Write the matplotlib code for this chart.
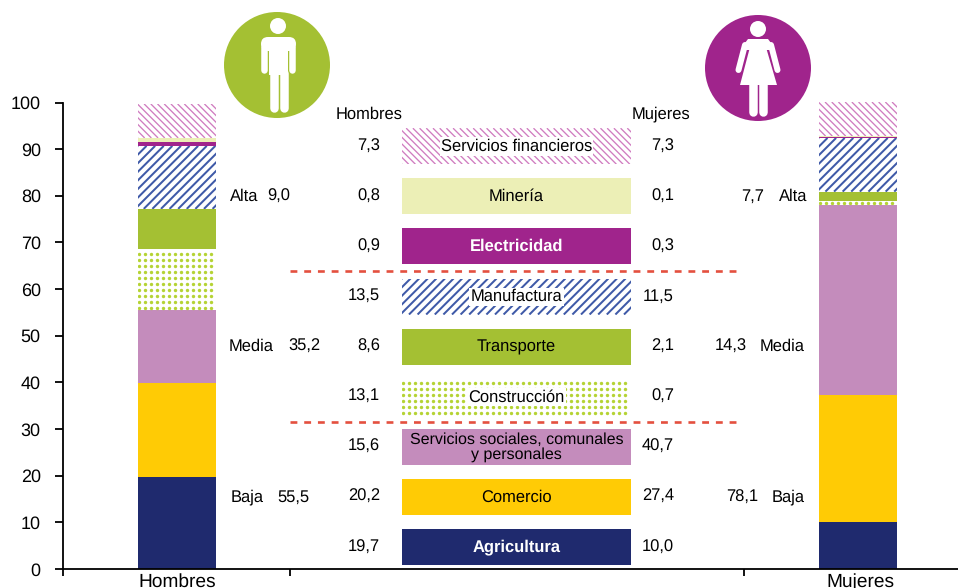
import numpy as np
import matplotlib
matplotlib.use("Agg")
import matplotlib.pyplot as plt
from matplotlib.collections import LineCollection
from matplotlib.patches import Circle, FancyBboxPatch, Polygon
from matplotlib.transforms import IdentityTransform

plt.rcParams['font.family'] = ['Liberation Sans', 'DejaVu Sans']
plt.rcParams['text.hinting'] = 'none'

# Data, bottom to top
sectors = ['Agricultura', 'Comercio', 'Servicios sociales, comunales\ny personales',
           'Construcción', 'Transporte', 'Manufactura', 'Electricidad', 'Minería',
           'Servicios financieros']
hombres = [19.7, 20.2, 15.6, 13.1, 8.6, 13.5, 0.9, 0.8, 7.3]
mujeres = [10.0, 27.4, 40.7, 0.7, 2.1, 11.5, 0.3, 0.1, 7.3]
groups = ['Baja', 'Media', 'Alta']
grupo_hombres = ['55,5', '35,2', '9,0']
grupo_mujeres = ['78,1', '14,3', '7,7']
yticks = [0, 10, 20, 30, 40, 50, 60, 70, 80, 90, 100]
bar_labels = ['Hombres', '', '', 'Mujeres']

NAVY = '#1f2a6e'
YELLOW = '#ffcb05'
MAUVE = '#c48cbc'
DOTS = '#b5d334'
GREEN = '#a4c033'
BLUE = '#3f5aa8'
PURPLE = '#a0248c'
PALE = '#ecefb6'
PINK = '#d07cc0'

# solid fill, or a hatch kind drawn on white
styles = [(NAVY, None), (YELLOW, None), (MAUVE, None), (DOTS, 'dots'), (GREEN, None),
          (BLUE, 'fwd'), (PURPLE, None), (PALE, None), (PINK, 'back')]


def hatch_rect(ax, rect, color, kind):
    """Pixel-spaced hatch, clipped to a bar"""
    box = rect.get_window_extent()
    if kind == 'dots':
        # whole-pixel spacing keeps the grid even, Agg rounds marker positions
        xs = np.arange(round(box.x0) + 1, box.x1, 6)
        ys = np.arange(round(box.y0) + 2, box.y1, 6)
        gx, gy = np.meshgrid(xs, ys)
        dots = ax.scatter(gx.ravel(), gy.ravel(), s=6.0, linewidths=0, color=color,
                          transform=IdentityTransform())
        dots.set_clip_path(rect)
        return
    h = box.height
    if kind == 'fwd':
        step, lw = 8.6, 1.45
        segs = [[(c, box.y0), (c + h, box.y1)] for c in np.arange(box.x0 - h, box.x1, step)]
    else:
        step, lw = 6.7, 0.95
        segs = [[(c, box.y1), (c + h, box.y0)] for c in np.arange(box.x0 - h, box.x1, step)]
    lc = LineCollection(segs, colors=color, linewidths=lw, transform=IdentityTransform())
    ax.add_collection(lc, autolim=False)
    lc.set_clip_path(rect)


def stroke(ov, x0, y0, x1, y1, w, color='white'):
    ov.plot([x0, x1], [y0, y1], color=color, lw=w * 0.72, solid_capstyle='round',
            scalex=False, scaley=False)


def draw_man(ov, cx, cy):
    ov.add_patch(Circle((cx, cy), 53, fc=GREEN, ec='none'))
    ov.add_patch(Circle((cx + 1, cy - 39), 8, fc='white', ec='none'))
    ov.add_patch(FancyBboxPatch((cx - 16, cy - 28), 35, 14, boxstyle='round,pad=0,rounding_size=7',
                                fc='white', ec='none'))
    stroke(ov, cx - 12.5, cy - 18, cx - 12.5, cy + 5, 6.5)
    stroke(ov, cx + 15.5, cy - 18, cx + 15.5, cy + 5, 6.5)
    ov.add_patch(Polygon([(cx - 7.5, cy - 20), (cx + 11, cy - 20), (cx + 11, cy + 10), (cx - 7.5, cy + 10)],
                         fc='white', ec='none'))
    stroke(ov, cx - 3.3, cy + 8, cx - 3.3, cy + 43, 8.5)
    stroke(ov, cx + 6.8, cy + 8, cx + 6.8, cy + 43, 8.5)


def draw_woman(ov, cx, cy):
    ov.add_patch(Circle((cx, cy), 53, fc=PURPLE, ec='none'))
    ov.add_patch(Circle((cx, cy - 39), 8, fc='white', ec='none'))
    ov.add_patch(Polygon([(cx - 10, cy - 29), (cx + 10, cy - 29), (cx + 16, cy - 21), (cx + 12, cy - 18),
                          (cx - 12, cy - 18), (cx - 16, cy - 21)], fc='white', ec='none'))
    stroke(ov, cx - 13, cy - 23, cx - 19.5, cy + 2, 6)
    stroke(ov, cx + 13, cy - 23, cx + 19.5, cy + 2, 6)
    ov.add_patch(Polygon([(cx - 8.5, cy - 19), (cx + 8.5, cy - 19), (cx + 19, cy + 17), (cx - 18, cy + 17)],
                         fc='white', ec='none'))
    stroke(ov, cx - 4.7, cy + 16, cx - 4.7, cy + 44, 8.5)
    stroke(ov, cx + 4.7, cy + 16, cx + 4.7, cy + 44, 8.5)


fig = plt.figure(figsize=(9.58, 5.88), dpi=100)
ax = fig.add_axes([63 / 958, 19 / 588, 895 / 958, 466.5 / 588])

# Stacked columns
width = 78 / 227
hatches = []
for xpos, vals in ((0, hombres), (3, mujeres)):
    bottom = 0
    for v, (color, kind) in zip(vals, styles):
        rect = ax.bar(xpos, v, width, bottom=bottom, color='white' if kind else color, clip_on=False)[0]
        if kind:
            hatches.append((rect, color, kind))
        bottom += v

ax.set_xlim(-0.502, 3.441)
ax.set_ylim(0, 100)
ax.set_autoscale_on(False)
ax.set_yticks(yticks)
ax.set_xticks([-0.502, 0.498, 2.498])
ax.set_xticklabels(['', '', ''])
ax.tick_params(axis='y', length=6, width=1.3, labelsize=13, pad=10, color='black')
ax.tick_params(axis='x', length=5, width=1.3)
for s in ('top', 'right'):
    ax.spines[s].set_visible(False)
for s in ('left', 'bottom'):
    ax.spines[s].set_linewidth(1.3)

for rect, color, kind in hatches:
    hatch_rect(ax, rect, color, kind)

# Overlay in picture pixels for the middle legend, notes and icons
ov = fig.add_axes([0, 0, 1, 1])
ov.set_xlim(0, 958)
ov.set_ylim(588, 0)
ov.set_autoscale_on(False)
ov.axis('off')

rows = 547 - 50.1 * np.arange(len(sectors))
for row, name, h, m, (color, kind) in zip(rows, sectors, hombres, mujeres, styles):
    rect = ov.barh(row, 229, height=36, left=402, color='white' if kind else color)[0]
    if kind:
        hatch_rect(ov, rect, color, kind)
    txt = dict(ha='center', va='center', fontsize=11.9, color='black', zorder=5)
    if name in ('Agricultura', 'Electricidad'):
        txt.update(color='white', fontweight='bold')
    if kind:
        txt.update(bbox=dict(fc='white', ec='none', pad=1.0))
    if '\n' in name:
        txt.update(linespacing=0.93, fontsize=11.5)
    ov.text(516.5, row + 0.3, name, **txt)
    ov.text(380, row, f'{h:.1f}'.replace('.', ','), ha='right', va='center', fontsize=11.9)
    ov.text(674, row, f'{m:.1f}'.replace('.', ','), ha='right', va='center', fontsize=11.9)

for ypix in (271, 421.5):
    ov.plot([290, 738], [ypix, ypix], color='#e4503f', lw=1.9, dashes=(2.6, 2.6),
            scalex=False, scaley=False)

ov.text(336, 114, 'Hombres', ha='left', va='center', fontsize=11.9)
ov.text(632, 114, 'Mujeres', ha='left', va='center', fontsize=11.9)

# Group totals beside the columns
left_group_x = [231, 229, 230]
left_value_x = [309, 320, 290]
right_value_x = [758, 747, 764]
right_group_x = [805, 805, 807]
group_y = [497, 346, 196]
for i, g in enumerate(groups):
    ov.text(left_group_x[i], group_y[i], g, ha='left', va='center', fontsize=11.9)
    ov.text(left_value_x[i], group_y[i], grupo_hombres[i], ha='right', va='center', fontsize=11.9)
    ov.text(right_value_x[i], group_y[i], grupo_mujeres[i], ha='right', va='center', fontsize=11.9)
    ov.text(right_group_x[i], group_y[i], g, ha='right', va='center', fontsize=11.9)

ov.text(177, 582, bar_labels[0], ha='center', va='center', fontsize=13.8)
ov.text(860, 582, bar_labels[3], ha='center', va='center', fontsize=13.8)

draw_man(ov, 277, 65)
draw_woman(ov, 758, 68)

fig.savefig('out.png', dpi=100)
